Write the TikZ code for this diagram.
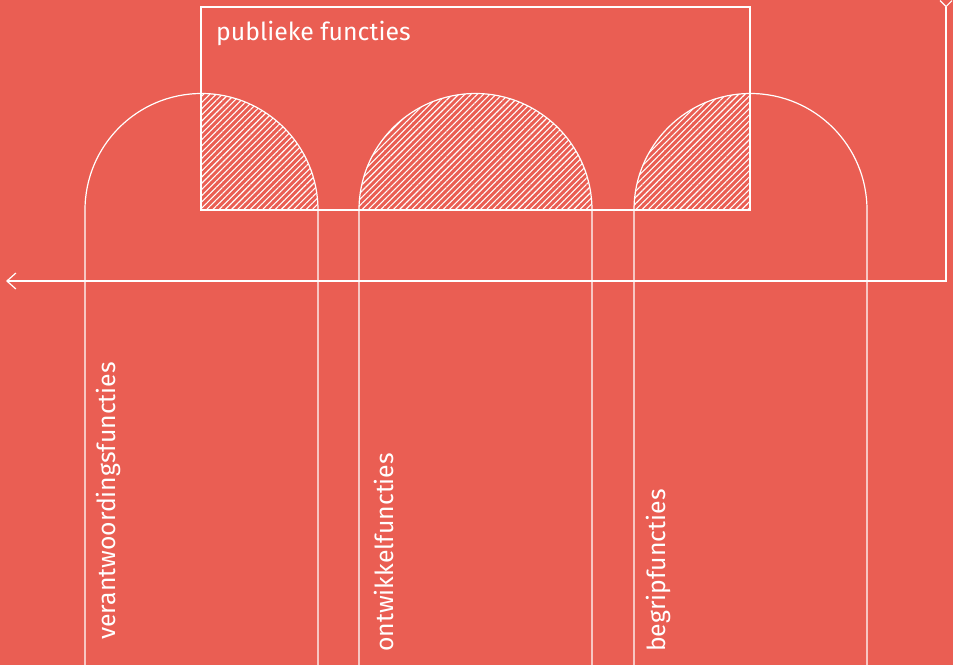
\documentclass[tikz,border=0pt]{standalone}
\usepackage{fontspec}
\setmainfont{Fira Sans}
\usetikzlibrary{arrows.meta,patterns.meta}
\definecolor{koraal}{RGB}{234,94,83}
\tikzset{
  lijn/.style={white,line width=1.2pt},
  arcering/.style={pattern={Lines[angle=45,distance=4.4pt,line width=1.1pt]},pattern color=white},
  tekst/.style={white,font=\fontsize{24.8}{28}\selectfont,inner sep=0pt},
}
\begin{document}
\begin{tikzpicture}[x=1pt,y=-1pt]
\fill[koraal] (0,0) rectangle (953,665);
\useasboundingbox (0,0) rectangle (953,665);

% arcering
\fill[arcering] (201,210) -- (201.5,93.5) arc[start angle=270,end angle=360,radius=116.5] -- cycle;
\fill[arcering] (359,210) arc[start angle=180,end angle=360,radius=116.5] -- cycle;
\fill[arcering] (634,210) arc[start angle=180,end angle=270,radius=116.5] -- (750,210) -- cycle;

% bogen
\draw[lijn] (85,665) -- (85,210) arc[start angle=180,end angle=360,radius=116.5] -- (318,665);
\draw[lijn] (359,665) -- (359,210) arc[start angle=180,end angle=360,radius=116.5] -- (592,665);
\draw[lijn] (634,665) -- (634,210) arc[start angle=180,end angle=360,radius=116.5] -- (867,665);

\draw[lijn] (201,7) rectangle (750,210);

% pijl
\coordinate (boven) at (946,0);
\coordinate (hoek) at (946,281);
\coordinate (links) at (6,281);
\draw[lijn,{Straight Barb[reversed,length=6pt,width=12pt]}-{Straight Barb[length=9pt,width=16pt]}] (boven) -- (hoek) -- (links);

\node[tekst,anchor=base west] (publiek) at (216,40) {publieke functies};
\node[tekst,rotate=90,anchor=base west] (verantw) at (115,640) {verantwoordingsfuncties};
\node[tekst,rotate=90,anchor=base west] (ontw) at (393,652) {ontwikkelfuncties};
\node[tekst,rotate=90,anchor=base west] (begrip) at (665,652) {begripfuncties};
\end{tikzpicture}
\end{document}
